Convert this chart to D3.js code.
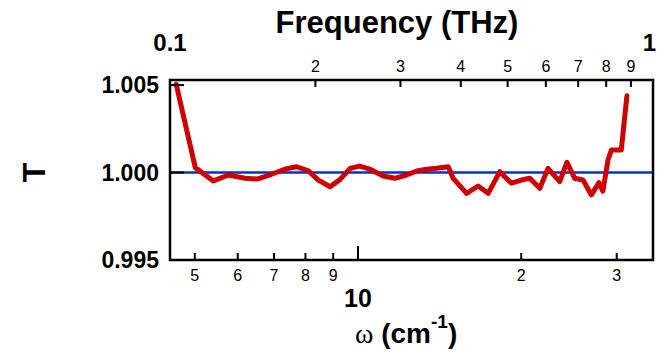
<!DOCTYPE html>
<html>
<head>
<meta charset="utf-8">
<script src="https://cdnjs.cloudflare.com/ajax/libs/d3/7.8.5/d3.min.js"></script>
<style>
  body { margin: 0; background: #fff; }
  text { font-family: Arial, 'Liberation Sans', sans-serif; fill: #000; }
</style>
</head>
<body>
<div id="main"></div>
<script>
// data

const wavenumber = [4.62, 5.01, 5.41, 5.77, 6.19, 6.51, 6.93, 7.34, 7.71, 8.10, 8.45, 8.88,
  9.27, 9.67, 10.06, 10.52, 11.13, 11.70, 12.29, 12.83, 13.38, 13.96, 14.67, 14.98,
  15.86, 16.65, 17.38, 18.26, 19.19, 20.02, 20.74, 21.64, 22.41, 23.55, 24.29, 25.10,
  26.00, 26.94, 27.82, 28.29, 28.91, 29.33, 30.59, 31.33];
const transmission = [1.00505, 1.00028, 0.99952, 0.99986, 0.99967, 0.99963, 0.99990, 1.00020,
  1.00033, 1.00009, 0.99957, 0.99919, 0.99961, 1.00024, 1.00037, 1.00019, 0.99980, 0.99967,
  0.99986, 1.00009, 1.00019, 1.00024, 1.00033, 0.99967, 0.99881, 0.99923, 0.99881, 1.00005,
  0.99939, 0.99957, 0.99967, 0.99910, 1.00024, 0.99948, 1.00059, 0.99967, 0.99957, 0.99872,
  0.99942, 0.99894, 1.00072, 1.00129, 1.00129, 1.00439];

const bottomTicks = [5, 6, 7, 8, 9, 10, 20, 30];
const bottomLabels = ['5', '6', '7', '8', '9', '', '2', '3'];
const topTicks = [0.2, 0.3, 0.4, 0.5, 0.6, 0.7, 0.8, 0.9];
const topLabels = ['2', '3', '4', '5', '6', '7', '8', '9'];
const yTicks = [0.995, 1.000, 1.005];

// SVG

const w = 657;
const h = 358;
const pl = 170, pr = 653, pt = 80, pb = 260;

const svg = d3.select('#main')
    .append('svg')
    .attr('width', w)
    .attr('height', h)

const x = d3.scaleLog().domain([4.5, 35]).range([pl, pr]);
const xTop = d3.scaleLog().domain([0.1, 1]).range([pl, pr]);
const y = d3.scaleLinear().domain([0.995, 1.00529]).range([pb, pt]);

// reference line at T = 1
svg.append('line')
    .attr('x1', pl).attr('x2', pr)
    .attr('y1', y(1)).attr('y2', y(1))
    .attr('stroke', '#0030d0')
    .attr('stroke-width', 2.5)

// data
const line = d3.line()
    .x((d, i) => x(wavenumber[i]))
    .y(d => y(d))

svg.append('path')
    .datum(transmission)
    .attr('d', line)
    .attr('fill', 'none')
    .attr('stroke', '#d00000')
    .attr('stroke-width', 5)
    .attr('stroke-linejoin', 'round')
    .attr('stroke-linecap', 'round')

// ticks
svg.append('g').selectAll('line')
    .data(bottomTicks)
    .enter()
    .append('line')
    .attr('x1', d => x(d)).attr('x2', d => x(d))
    .attr('y1', pb)
    .attr('y2', d => d == 10 ? pb - 14 : pb - 7)
    .attr('stroke', 'black')
    .attr('stroke-width', 2)

svg.append('g').selectAll('text')
    .data(bottomTicks)
    .enter()
    .append('text')
    .attr('x', d => x(d))
    .attr('y', 281)
    .attr('text-anchor', 'middle')
    .style('font-size', '16px')
    .text((d, i) => bottomLabels[i])

svg.append('g').selectAll('line')
    .data(topTicks)
    .enter()
    .append('line')
    .attr('x1', d => xTop(d)).attr('x2', d => xTop(d))
    .attr('y1', pt)
    .attr('y2', pt + 7)
    .attr('stroke', 'black')
    .attr('stroke-width', 2)

svg.append('g').selectAll('text')
    .data(topTicks)
    .enter()
    .append('text')
    .attr('x', d => xTop(d))
    .attr('y', 72)
    .attr('text-anchor', 'middle')
    .style('font-size', '16px')
    .text((d, i) => topLabels[i])

svg.append('g').selectAll('line')
    .data(yTicks)
    .enter()
    .append('line')
    .attr('x1', pl).attr('x2', pl + 14)
    .attr('y1', d => y(d)).attr('y2', d => y(d))
    .attr('stroke', 'black')
    .attr('stroke-width', 2)

svg.append('g').selectAll('text')
    .data(yTicks)
    .enter()
    .append('text')
    .attr('x', 159)
    .attr('y', d => y(d) + 8)
    .attr('text-anchor', 'end')
    .style('font-size', '23px')
    .style('font-weight', 'bold')
    .text(d => d3.format('.3f')(d))

// frame
svg.append('rect')
    .attr('x', pl).attr('y', pt)
    .attr('width', pr - pl).attr('height', pb - pt)
    .attr('fill', 'none')
    .attr('stroke', 'black')
    .attr('stroke-width', 2.5)

// decade labels
svg.append('text')
    .attr('x', x(10)).attr('y', 307)
    .attr('text-anchor', 'middle')
    .style('font-size', '25px').style('font-weight', 'bold')
    .text('10')

svg.append('text')
    .attr('x', xTop(0.1)).attr('y', 51)
    .attr('text-anchor', 'middle')
    .style('font-size', '24px').style('font-weight', 'bold')
    .text('0.1')

svg.append('text')
    .attr('x', 656).attr('y', 51)
    .attr('text-anchor', 'end')
    .style('font-size', '24px').style('font-weight', 'bold')
    .text('1')

// axis titles
svg.append('text')
    .attr('x', 397).attr('y', 33)
    .attr('text-anchor', 'middle')
    .style('font-size', '31px').style('font-weight', 'bold')
    .text('Frequency (THz)')

svg.append('text')
    .attr('transform', 'translate(45, 172.5) rotate(-90)')
    .attr('text-anchor', 'middle')
    .style('font-size', '32px').style('font-weight', 'bold')
    .text('T')

const xlab = svg.append('text')
    .attr('x', 355).attr('y', 343)
    .style('font-size', '28px').style('font-weight', 'bold')

xlab.append('tspan')
    .style('font-family', "'Liberation Serif', 'DejaVu Serif', serif")
    .style('font-weight', 'normal')
    .style('font-size', '28px')
    .text('ω')
xlab.append('tspan').text(' (cm')
xlab.append('tspan')
    .attr('dy', -15)
    .style('font-size', '19px')
    .text('-1')
xlab.append('tspan')
    .attr('dy', 15)
    .text(')')
</script>
</body>
</html>
